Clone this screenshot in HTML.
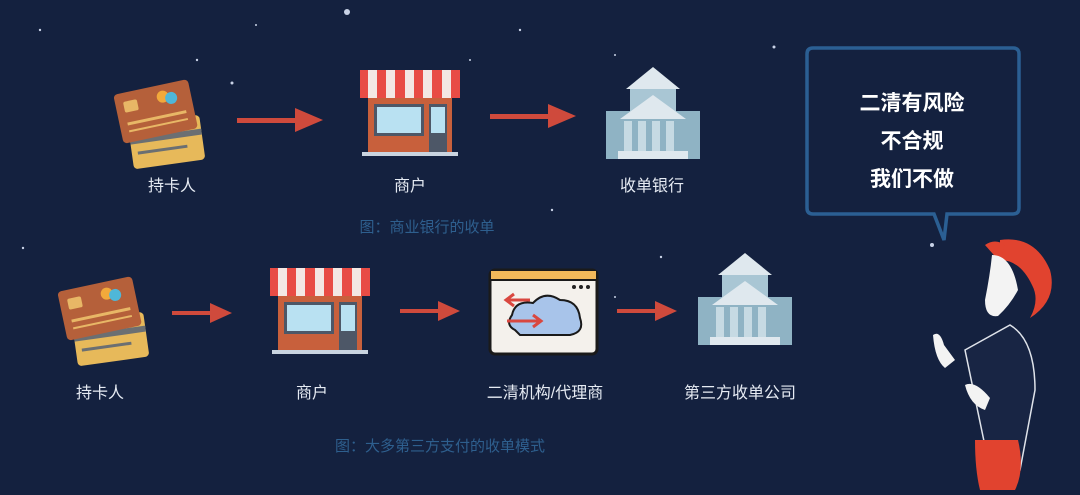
<!DOCTYPE html>
<html><head><meta charset="utf-8"><style>
html,body{margin:0;padding:0;}
body{width:1080px;height:490px;overflow:hidden;background:#14213f;font-family:"Liberation Sans","Noto Sans CJK SC",sans-serif;}
</style></head><body>
<svg width="1080" height="490" viewBox="0 0 1080 490" xmlns="http://www.w3.org/2000/svg" font-family="Liberation Sans, Noto Sans CJK SC, sans-serif">
<defs>
<g id="cards">
 <g transform="rotate(-8 45 60)">
  <rect x="12" y="42" width="72" height="45" rx="4" fill="#e7b95a"/>
  <rect x="12" y="56" width="72" height="6" fill="#6b6f72"/>
  <rect x="18" y="70" width="50" height="3" fill="#6b6f72"/>
 </g>
 <g transform="rotate(-12 40 35)">
  <rect x="0" y="8" width="76" height="50" rx="4" fill="#b5603a"/>
  <rect x="8" y="17" width="14" height="11" rx="2" fill="#e8b766"/>
  <circle cx="48" cy="20" r="6" fill="#f2a93b"/><circle cx="56" cy="23" r="6" fill="#4fb7d8"/>
  <rect x="8" y="38" width="60" height="3" fill="#e8b766"/>
  <rect x="8" y="46" width="60" height="2" fill="#e8b766"/>
 </g>
</g>
<g id="shop">
 <rect x="8" y="28" width="84" height="54" fill="#c8603c"/>
 <rect x="0" y="0" width="100" height="28" fill="#e84c45"/>
 <g fill="#f3e8e4"><rect x="8" y="0" width="9" height="28"/><rect x="26" y="0" width="9" height="28"/><rect x="45" y="0" width="9" height="28"/><rect x="63" y="0" width="9" height="28"/><rect x="82" y="0" width="9" height="28"/></g>
 <rect x="14" y="34" width="50" height="32" fill="#4d5767"/><rect x="17" y="37" width="44" height="26" fill="#b9e1f2"/>
 <rect x="69" y="34" width="18" height="48" fill="#4d5767"/><rect x="71" y="37" width="14" height="26" fill="#b9e1f2"/>
 <rect x="2" y="82" width="96" height="4" fill="#c9d4e0"/>
</g>
<g id="bank">
 <rect x="0" y="44" width="94" height="48" fill="#8fb3c4"/>
 <polygon points="47,0 20,22 74,22" fill="#dfe8ee"/>
 <rect x="24" y="22" width="46" height="30" fill="#a9c6d4"/>
 <polygon points="47,28 14,52 80,52" fill="#dfe8ee"/>
 <g fill="#c6dae3"><rect x="18" y="54" width="8" height="30"/><rect x="32" y="54" width="8" height="30"/><rect x="46" y="54" width="8" height="30"/><rect x="60" y="54" width="8" height="30"/></g>
 <rect x="12" y="84" width="70" height="8" fill="#dfe8ee"/>
</g>
</defs>
<g fill="#c8d2e6">
<circle cx="347" cy="12" r="3"/><circle cx="232" cy="83" r="1.5"/><circle cx="197" cy="60" r="1.2"/><circle cx="40" cy="30" r="1.2"/><circle cx="520" cy="30" r="1.2"/><circle cx="774" cy="47" r="1.5"/><circle cx="615" cy="55" r="1"/><circle cx="932" cy="245" r="2"/><circle cx="661" cy="257" r="1.2"/><circle cx="615" cy="297" r="1"/><circle cx="23" cy="248" r="1.2"/><circle cx="552" cy="210" r="1.2"/><circle cx="256" cy="25" r="1"/><circle cx="470" cy="60" r="1"/>
</g>
<!-- Row 1 -->
<use href="#cards" transform="translate(118,78)"/>
<g fill="#cf4a3c"><rect x="237" y="118" width="62" height="5"/><polygon points="295,108 323,120 295,132"/></g>
<use href="#shop" transform="translate(360,70)"/>
<g fill="#cf4a3c"><rect x="490" y="114" width="62" height="5"/><polygon points="548,104 576,116 548,128"/></g>
<use href="#bank" transform="translate(606,67)"/>
<g fill="#e6ebf3" font-size="16" text-anchor="middle">
<text x="172" y="191">持卡人</text><text x="410" y="191">商户</text><text x="652" y="191">收单银行</text>
<text x="100" y="398">持卡人</text><text x="312" y="398">商户</text><text x="545" y="398">二清机构/代理商</text><text x="740" y="398">第三方收单公司</text>
</g>
<text x="427" y="232" fill="#2e5f8e" font-size="15" text-anchor="middle">图：商业银行的收单</text>
<text x="440" y="451" fill="#2e5f8e" font-size="15" text-anchor="middle">图：大多第三方支付的收单模式</text>
<!-- Row 2 -->
<use href="#cards" transform="translate(62,275)"/>
<g fill="#cf4a3c"><rect x="172" y="311" width="42" height="4"/><polygon points="210,303 232,313 210,323"/></g>
<use href="#shop" transform="translate(270,268)"/>
<g fill="#cf4a3c"><rect x="400" y="309" width="42" height="4"/><polygon points="438,301 460,311 438,321"/></g>
<g>
 <rect x="490" y="270" width="107" height="84" rx="5" fill="#f4f1ec" stroke="#1a1a1a" stroke-width="3"/>
 <rect x="491" y="271" width="105" height="8" fill="#f2b95a"/>
 <line x1="490" y1="280" x2="597" y2="280" stroke="#1a1a1a" stroke-width="2"/>
 <circle cx="574" cy="287" r="2" fill="#222"/><circle cx="581" cy="287" r="2" fill="#222"/><circle cx="588" cy="287" r="2" fill="#222"/>
 <path d="M515,330 Q505,325 512,315 Q515,300 533,303 Q545,290 560,300 Q578,300 580,318 Q585,332 570,335 L520,335 Z" fill="#a8c4ea" stroke="#1a1a1a" stroke-width="2"/>
 <path d="M530,300 L508,300 M514,294 L506,300 L514,306" stroke="#d9473f" stroke-width="3" fill="none"/>
 <path d="M507,321 L540,321 M533,315 L541,321 L533,327" stroke="#d9473f" stroke-width="3" fill="none"/>
</g>
<g fill="#cf4a3c"><rect x="617" y="309" width="42" height="4"/><polygon points="655,301 677,311 655,321"/></g>
<use href="#bank" transform="translate(698,253)"/>
<!-- bubble -->
<path d="M813,48 H1013 Q1019,48 1019,54 V208 Q1019,214 1013,214 H947 L944,240 L934,214 H813 Q807,214 807,208 V54 Q807,48 813,48 Z" fill="none" stroke="#2b5f93" stroke-width="3.5"/>
<g fill="#ffffff" font-size="21" font-weight="bold" text-anchor="middle">
<text x="912" y="110">二清有风险</text><text x="912" y="148">不合规</text><text x="912" y="186">我们不做</text>
</g>
<!-- goat -->
<g>
 <path d="M1000,240 Q1035,235 1050,270 Q1058,300 1030,318 Q1040,300 1032,285 Q1020,260 1000,260 Z" fill="#e1432f"/>
 <path d="M985,245 Q995,238 1005,245 L1000,262 Z" fill="#e1432f"/>
 <path d="M992,255 Q1012,255 1018,290 Q1010,305 998,316 Q985,318 985,300 Q990,275 992,255 Z" fill="#f3f3f3"/>
 <path d="M965,350 L1010,325 Q1035,340 1035,390 L1020,470 L990,470 Z" fill="#182544" stroke="#dfe3ea" stroke-width="1.5"/>
 <path d="M975,440 Q975,470 980,490 L1015,490 Q1025,470 1018,440 Z" fill="#e1432f"/>
 <path d="M933,335 Q940,330 944,345 L955,360 L945,368 Q935,360 933,335 Z" fill="#f3f3f3"/>
 <path d="M965,385 Q975,380 990,398 L985,410 Q970,405 965,385 Z" fill="#f3f3f3"/>
</g>
</svg>
</body></html>
